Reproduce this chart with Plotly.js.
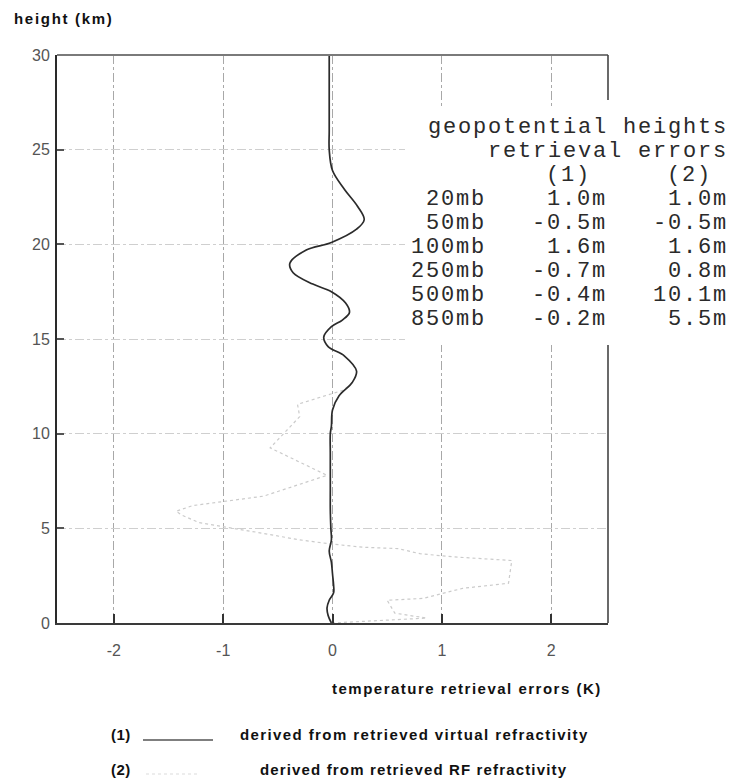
<!DOCTYPE html>
<html>
<head>
<meta charset="utf-8">
<script src="https://cdn.plot.ly/plotly-3.0.1.min.js"></script>
<style>html,body{margin:0;padding:0;background:#fff;}</style>
</head>
<body>
<div id="chart" style="width:734px;height:780px;"></div>
<script>
// Profile (1): temperature error derived from retrieved virtual refractivity
const heightVirtual = [0, 0.4, 0.8, 1.2, 1.6, 2.0, 2.6, 3.2, 3.8, 4.4, 5, 6, 7, 8, 9, 10, 10.4, 11.25, 12.0, 12.7, 13.3, 14.1, 14.6, 15.1, 15.65, 16.0, 16.4, 16.9, 17.5, 17.9, 18.5, 19.0, 19.7, 20.1, 20.8, 21.3, 22.0, 22.9, 23.9, 25.0, 26, 28, 30];
const errVirtual    = [-0.01, -0.04, -0.05, -0.03, 0.01, 0.01, 0.0, -0.01, -0.03, -0.01, -0.015, -0.02, -0.02, -0.02, -0.02, -0.02, -0.01, 0.0, 0.06, 0.18, 0.22, 0.11, -0.04, -0.08, -0.01, 0.09, 0.155, 0.12, -0.01, -0.18, -0.36, -0.39, -0.24, -0.01, 0.22, 0.29, 0.23, 0.11, 0.0, -0.03, -0.03, -0.03, -0.03];

// Profile (2): temperature error derived from retrieved RF refractivity
const heightRF = [0, 0.26, 0.52, 1.2, 1.3, 1.83, 2.1, 3.3, 3.5, 3.66, 3.93, 4.0, 4.2, 4.4, 4.8, 5.06, 5.3, 5.7, 5.9, 6.2, 6.4, 6.7, 7.8, 8.4, 9.25, 10.9, 11.55, 12.3, 12.7];
const errRF    = [-0.005, 0.86, 0.57, 0.5, 0.83, 1.19, 1.61, 1.64, 1.09, 0.8, 0.6, 0.28, -0.05, -0.31, -0.7, -0.97, -1.22, -1.38, -1.43, -1.28, -1.02, -0.63, -0.05, -0.26, -0.57, -0.30, -0.32, 0.1, 0.18];

// Axis ticks
const xTickVals = [-2, -1, 0, 1, 2];
const xTickText = ['-2', '-1', '0', '1', '2'];
const yTickVals = [0, 5, 10, 15, 20, 25, 30];
const yTickText = ['0', '5', '10', '15', '20', '25', '30'];

// Geopotential height retrieval errors table
const tableTitle = ['geopotential heights', 'retrieval errors'];
const tableCols = ['(1)', '(2)'];
const levels  = ['20mb', '50mb', '100mb', '250mb', '500mb', '850mb'];
const geoErr1 = ['1.0m', '-0.5m', '1.6m', '-0.7m', '-0.4m', '-0.2m'];
const geoErr2 = ['1.0m', '-0.5m', '1.6m', '0.8m', '10.1m', '5.5m'];

// Legend labels
const legendKeys  = ['(1)', '(2)'];
const legendTexts = ['derived from retrieved virtual refractivity', 'derived from retrieved RF refractivity'];

// --- page geometry (pixels) ---
const W = 734, H = 780;
const PL = 57, PR = 608, PT = 55, PB = 623;
const px = v => (v - PL) / (PR - PL);
const py = v => (PB - v) / (PB - PT);

const mono = 'Liberation Mono, Courier New, monospace';
const sansB = 'Liberation Sans, Arial, sans-serif';

const traces = [
  {
    x: errRF, y: heightRF, type: 'scatter', mode: 'lines',
    line: {color: '#cbcbcb', width: 1.2, dash: 'dot'},
    hoverinfo: 'skip', showlegend: false
  },
  {
    x: errVirtual, y: heightVirtual, type: 'scatter', mode: 'lines',
    line: {color: '#2b2b2b', width: 1.7, shape: 'spline', smoothing: 1},
    hoverinfo: 'skip', showlegend: false
  }
];

const annotations = [];
function addText(text, xPix, yPix, opts) {
  annotations.push(Object.assign({
    text: text, xref: 'paper', yref: 'paper',
    x: px(xPix), y: py(yPix), showarrow: false,
    xanchor: 'left', yanchor: 'middle'
  }, opts));
}
const spaced = (t, s) => '<span style="letter-spacing:' + s + 'px">' + t + '</span>';
const bold = (t, s) => '<b>' + spaced(t, s) + '</b>';

// Table rows on a 24 px pitch, each cell in a box of the same height
const rowY = [127, 151, 175, 199, 223, 247, 271, 295, 319];
const tFont = {family: mono, size: 22, color: '#2a2a2a'};
const cell = (t, x, y, anchor) => addText(spaced(t, 1.8), x, y, {xanchor: anchor, font: tFont, height: 24, borderpad: 0});
cell(tableTitle[0], 729, rowY[0], 'right');
cell(tableTitle[1], 729, rowY[1], 'right');
cell(tableCols[0], 568, rowY[2], 'center');
cell(tableCols[1], 689, rowY[2], 'center');
levels.forEach((lv, i) => {
  cell(lv, 487, rowY[i + 3], 'right');
  cell(geoErr1[i], 608, rowY[i + 3], 'right');
  cell(geoErr2[i], 729, rowY[i + 3], 'right');
});

// Axis titles
const titleFont = {family: sansB, size: 15, color: '#111'};
addText(bold('height (km)', 1.7), 12, 18, {font: titleFont});
addText(bold('temperature retrieval errors (K)', 1.5), 330, 688, {font: titleFont});

// Legend
addText(bold(legendKeys[0], 0.5), 109, 734, {font: titleFont});
addText(bold(legendKeys[1], 0.5), 109, 769, {font: titleFont});
addText(bold(legendTexts[0], 1.4), 238, 734, {font: titleFont});
addText(bold(legendTexts[1], 1.15), 258, 769, {font: titleFont});

const shapes = [
  // blank panel behind the table
  {type: 'rect', xref: 'paper', yref: 'paper', x0: px(405), x1: px(734), y0: py(345), y1: py(106),
   fillcolor: '#ffffff', line: {width: 0}, layer: 'above'},
  // top frame
  {type: 'line', xref: 'paper', yref: 'paper', x0: 0, x1: 1, y0: 1, y1: 1,
   line: {color: '#7a7a7a', width: 2}, layer: 'above'},
  // right frame, broken by the table
  {type: 'line', xref: 'paper', yref: 'paper', x0: 1, x1: 1, y0: 1, y1: py(100),
   line: {color: '#444', width: 1.6}, layer: 'above'},
  {type: 'line', xref: 'paper', yref: 'paper', x0: 1, x1: 1, y0: py(345), y1: 0,
   line: {color: '#444', width: 1.6}, layer: 'above'},
  // legend samples
  {type: 'line', xref: 'paper', yref: 'paper', x0: px(143), x1: px(213), y0: py(740), y1: py(740),
   line: {color: '#555', width: 1.6}},
  {type: 'line', xref: 'paper', yref: 'paper', x0: px(146), x1: px(200), y0: py(774), y1: py(774),
   line: {color: '#dcdcdc', width: 1.2, dash: 'dot'}}
];

const layout = {
  width: W, height: H,
  margin: {l: PL, r: W - PR, t: PT, b: H - PB, pad: 0},
  paper_bgcolor: '#fff', plot_bgcolor: '#fff',
  showlegend: false,
  xaxis: {
    range: [-2.52, 2.52], tickvals: xTickVals, ticktext: xTickText,
    ticks: 'inside', ticklen: 9, tickwidth: 2, tickcolor: '#333',
    showline: true, linecolor: '#3a3a3a', linewidth: 2,
    showgrid: true, gridcolor: '#a8a8a8', gridwidth: 1, griddash: 'dashdot',
    zeroline: false,
    tickfont: {family: 'Liberation Sans, Arial, sans-serif', size: 16, color: '#555'},
    ticklabelstandoff: 12
  },
  yaxis: {
    range: [0, 30], tickvals: yTickVals, ticktext: yTickText,
    ticks: 'inside', ticklen: 7, tickwidth: 2, tickcolor: '#555',
    showline: true, linecolor: '#2a2a2a', linewidth: 2,
    showgrid: true, gridcolor: '#cfcfcf', gridwidth: 1, griddash: 'dashdot',
    zeroline: false,
    tickfont: {family: 'Liberation Sans, Arial, sans-serif', size: 16, color: '#555'},
    ticklabelstandoff: 2
  },
  annotations: annotations,
  shapes: shapes
};

Plotly.newPlot('chart', traces, layout, {staticPlot: true, displayModeBar: false});
</script>
</body>
</html>
